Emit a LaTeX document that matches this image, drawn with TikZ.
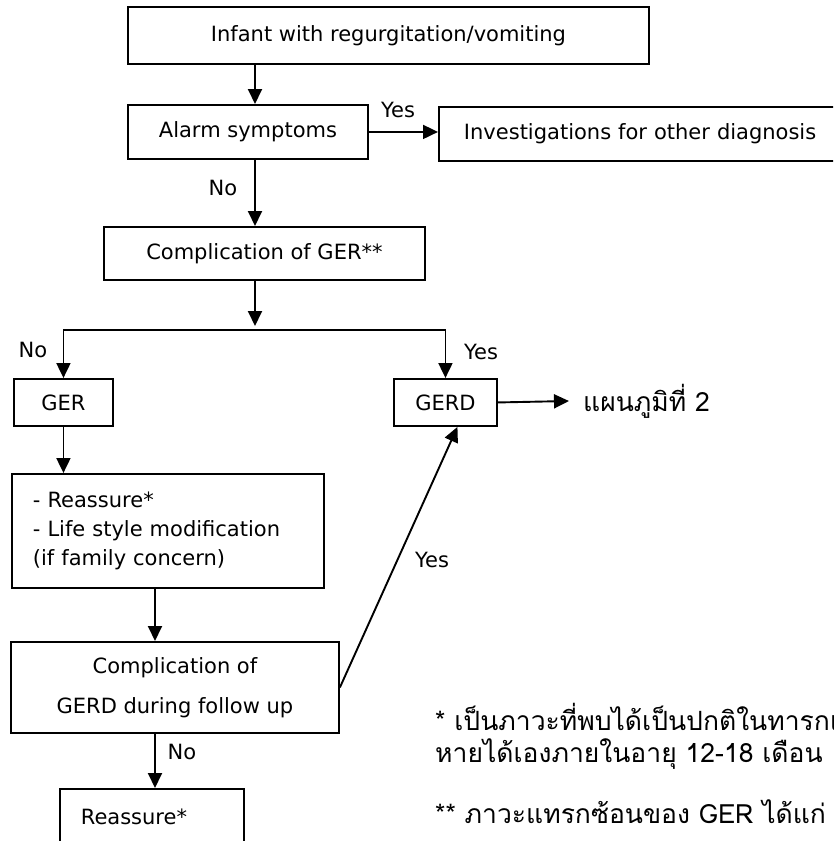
\documentclass[tikz,border=0pt]{standalone}
\usepackage{fontspec}
\setmainfont{DejaVu Sans}
\newfontfamily\thaifont[Script=Thai]{Loma}
\usepackage{xcolor}
\definecolor{flowInk}{HTML}{000000}
\usetikzlibrary{arrows.meta, calc}

\newcommand{\boxfont}{\fontsize{21}{28}\selectfont}
\newcommand{\notefont}{\thaifont\fontsize{26.5}{30}\selectfont}

\begin{document}
\begin{tikzpicture}[
  x=1pt, y=-1pt,
  box/.style = {rectangle, draw=flowInk, line width=1.9pt, anchor=north west,
                inner sep=0pt, font=\boxfont, align=center},
  arrow/.style = {-{Triangle[length=15pt, width=14pt]}, line width=1.9pt, color=flowInk},
  lbl/.style = {font=\boxfont, inner sep=0pt},
  note/.style = {font=\notefont, anchor=base west, inner sep=0pt},
]
\useasboundingbox (0,0) rectangle (833,841);
\clip (0,0) rectangle (833,841);

% Entry and first decision
\node[box, minimum width=521pt, minimum height=57pt] (start) at (127,6)
      {Infant with regurgitation/vomiting};
\node[box, minimum width=240pt, minimum height=54pt] (alarm) at (127,104)
      {Alarm symptoms};
\node[box, minimum height=54pt, text width=370pt, inner xsep=25pt, align=left] (invest) at (438,106)
      {Investigations for other diagnosis};
\node[box, minimum width=321pt, minimum height=53pt] (comp) at (103,226)
      {Complication of GER**};

% GER / GERD split
\node[box, minimum width=99pt, minimum height=47pt] (ger) at (13,378) {GER};
\node[box, minimum width=103pt, minimum height=47pt] (gerd) at (393,378) {GERD};
\node[font=\notefont, anchor=west, inner sep=0pt] (plan) at (583,401) {แผนภูมิที่ 2};

% Follow up branch
\node[box, minimum height=114pt, text width=270pt, inner xsep=21pt, align=left,
      font=\fontsize{21}{29}\selectfont] (reass) at (11,473)
      {- Reassure*\\- Life style modification\\(if family concern)};
\node[box, minimum width=328pt, minimum height=91pt] (compgerd) at (10,641)
      {Complication of\\[12pt]GERD during follow up};
\node[box, minimum width=184pt, minimum height=56pt] (final) at (59,788)
      {Reassure*\hspace*{36pt}};

% Notes
\node[note] (note1) at (435,730) {* เป็นภาวะที่พบได้เป็นปกติในทารกแ};
\node[note] (note2) at (435,762) {หายได้เองภายในอายุ 12-18 เดือน};
\node[note] (note3) at (435,823) {** ภาวะแทรกซ้อนของ GER ได้แก่ ห};

% Arrows
\coordinate (spine) at (255,0);
\coordinate (split) at (255,330);
\coordinate (lspine) at (155,0);
\draw[arrow] (start.south -| spine) -- (alarm.north -| spine);
\draw[arrow] (alarm.east) -- (alarm.east -| invest.west);
\draw[arrow] (alarm.south -| spine) -- (comp.north -| spine);
\draw[arrow] (comp.south -| spine) -- ([yshift=4pt]split);
\draw[arrow] (split) -| (ger.north);
\draw[arrow] (split) -| (gerd.north);
\draw[arrow] (gerd.east) -- ([xshift=-14pt]plan.west);
\draw[arrow] (ger.south) -- (ger.south |- reass.north);
\draw[arrow] (reass.south -| lspine) -- (compgerd.north -| lspine);
\draw[arrow] (compgerd.south -| lspine) -- (final.north -| lspine);
\draw[arrow] (compgerd.east) -- ([xshift=12pt]gerd.south);

% Branch labels
\node[lbl] (yes1) at (398,110) {Yes};
\node[lbl] (no1) at (223,188) {No};
\node[lbl] (no2) at (33,350) {No};
\node[lbl] (yes2) at (481,352) {Yes};
\node[lbl] (yes3) at (432,560) {Yes};
\node[lbl] (no3) at (182,752) {No};

\end{tikzpicture}
\end{document}
